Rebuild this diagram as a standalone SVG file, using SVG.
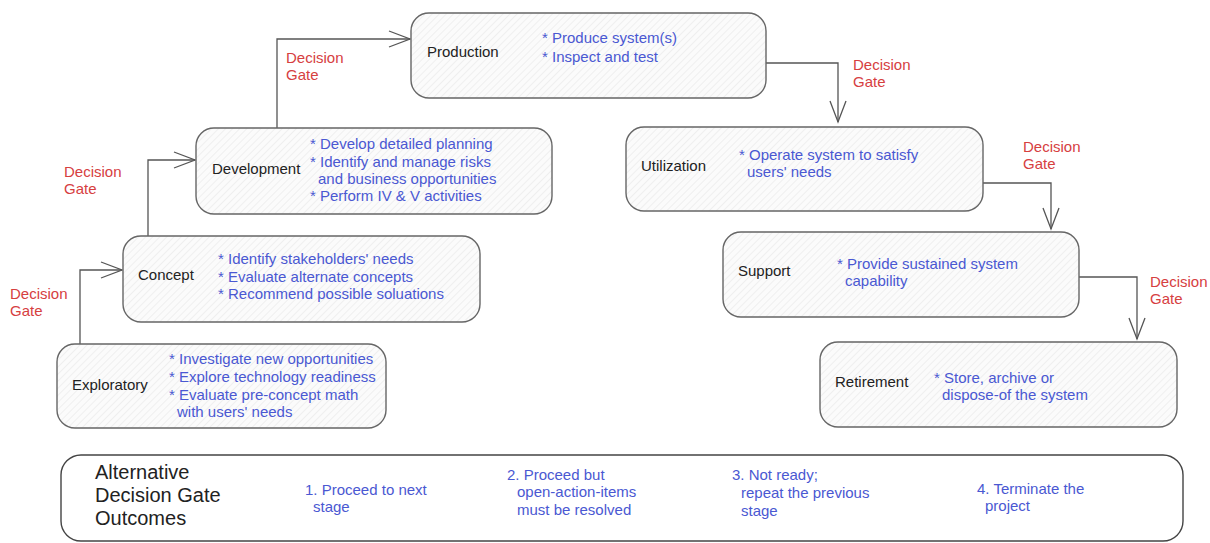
<svg xmlns="http://www.w3.org/2000/svg" width="1210" height="543" viewBox="0 0 1210 543">
<defs>
<pattern id="hatch" width="5" height="5" patternUnits="userSpaceOnUse" patternTransform="rotate(45)">
<rect width="5" height="5" fill="#fbfbfb"/>
<line x1="0" y1="0" x2="0" y2="5" stroke="#e4e4e4" stroke-width="1"/>
</pattern>
<marker id="arr" viewBox="0 0 24 18" refX="22" refY="9" markerWidth="24" markerHeight="18" markerUnits="userSpaceOnUse" orient="auto">
<path d="M1,1 L22,9 L1,17" fill="none" stroke="#555" stroke-width="1.3"/>
</marker>
</defs>
<style>
.box{fill:url(#hatch);stroke:#666;stroke-width:1.4}
.lbl{font-family:"Liberation Sans",Arial,sans-serif;font-size:15px;fill:#222}
.det{font-family:"Liberation Sans",Arial,sans-serif;font-size:15px;fill:#4a58d2}
.gate{font-family:"Liberation Sans",Arial,sans-serif;font-size:15px;fill:#d6403f}
.big{font-family:"Liberation Sans",Arial,sans-serif;font-size:20px;fill:#222}
.con{fill:none;stroke:#555;stroke-width:1.3;marker-end:url(#arr)}
</style>
<rect width="1210" height="543" fill="#ffffff"/>

<g id="connectors">
<path class="con" d="M80,344 V270 H122"/>
<path class="con" d="M148,236 V160 H195"/>
<path class="con" d="M277,128 V39 H410"/>
<path class="con" d="M766,63 H838 V122"/>
<path class="con" d="M983,183 H1051 V229"/>
<path class="con" d="M1079,277 H1137 V339"/>
</g>

<g id="gates">
<text class="gate" x="10" y="299">Decision</text><text class="gate" x="10" y="316">Gate</text>
<text class="gate" x="64" y="177">Decision</text><text class="gate" x="64" y="194">Gate</text>
<text class="gate" x="286" y="63">Decision</text><text class="gate" x="286" y="80">Gate</text>
<text class="gate" x="853" y="70">Decision</text><text class="gate" x="853" y="87">Gate</text>
<text class="gate" x="1023" y="152">Decision</text><text class="gate" x="1023" y="169">Gate</text>
<text class="gate" x="1150" y="287">Decision</text><text class="gate" x="1150" y="304">Gate</text>
</g>

<g id="production">
<rect class="box" x="411" y="13" width="355" height="85" rx="18"/>
<text class="lbl" x="427" y="57">Production</text>
<text class="det" x="542" y="43">* Produce system(s)</text>
<text class="det" x="542" y="62">* Inspect and test</text>
</g>

<g id="development">
<rect class="box" x="196" y="128" width="356" height="86" rx="18"/>
<text class="lbl" x="212" y="174">Development</text>
<text class="det" x="310" y="149">* Develop detailed planning</text>
<text class="det" x="310" y="167">* Identify and manage risks</text>
<text class="det" x="318" y="184">and business opportunities</text>
<text class="det" x="310" y="201">* Perform IV &amp; V activities</text>
</g>

<g id="concept">
<rect class="box" x="123" y="236" width="357" height="86" rx="18"/>
<text class="lbl" x="138" y="280">Concept</text>
<text class="det" x="218" y="264">* Identify stakeholders' needs</text>
<text class="det" x="218" y="282">* Evaluate alternate concepts</text>
<text class="det" x="218" y="299">* Recommend possible soluations</text>
</g>

<g id="exploratory">
<rect class="box" x="57" y="344" width="329" height="84" rx="18"/>
<text class="lbl" x="72" y="390">Exploratory</text>
<text class="det" x="169" y="364">* Investigate new opportunities</text>
<text class="det" x="169" y="382">* Explore technology readiness</text>
<text class="det" x="169" y="400">* Evaluate pre-concept math</text>
<text class="det" x="177" y="417">with users' needs</text>
</g>

<g id="utilization">
<rect class="box" x="626" y="127" width="357" height="84" rx="18"/>
<text class="lbl" x="641" y="171">Utilization</text>
<text class="det" x="739" y="160">* Operate system to satisfy</text>
<text class="det" x="747" y="177">users' needs</text>
</g>

<g id="support">
<rect class="box" x="723" y="232" width="356" height="85" rx="18"/>
<text class="lbl" x="738" y="276">Support</text>
<text class="det" x="837" y="269">* Provide sustained system</text>
<text class="det" x="845" y="286">capability</text>
</g>

<g id="retirement">
<rect class="box" x="820" y="342" width="357" height="85" rx="18"/>
<text class="lbl" x="835" y="387">Retirement</text>
<text class="det" x="934" y="383">* Store, archive or</text>
<text class="det" x="942" y="400">dispose-of the system</text>
</g>

<g id="outcomes">
<rect x="61" y="455" width="1122" height="86" rx="20" fill="#ffffff" stroke="#444" stroke-width="1.4"/>
<text class="big" x="95" y="479">Alternative</text>
<text class="big" x="95" y="502">Decision Gate</text>
<text class="big" x="95" y="525">Outcomes</text>
<text class="det" x="305" y="495">1. Proceed to next</text>
<text class="det" x="313" y="512">stage</text>
<text class="det" x="507" y="480">2. Proceed but</text>
<text class="det" x="517" y="497">open-action-items</text>
<text class="det" x="517" y="515">must be resolved</text>
<text class="det" x="732" y="480">3. Not ready;</text>
<text class="det" x="741" y="498">repeat the previous</text>
<text class="det" x="741" y="516">stage</text>
<text class="det" x="977" y="494">4. Terminate the</text>
<text class="det" x="985" y="511">project</text>
</g>
</svg>
